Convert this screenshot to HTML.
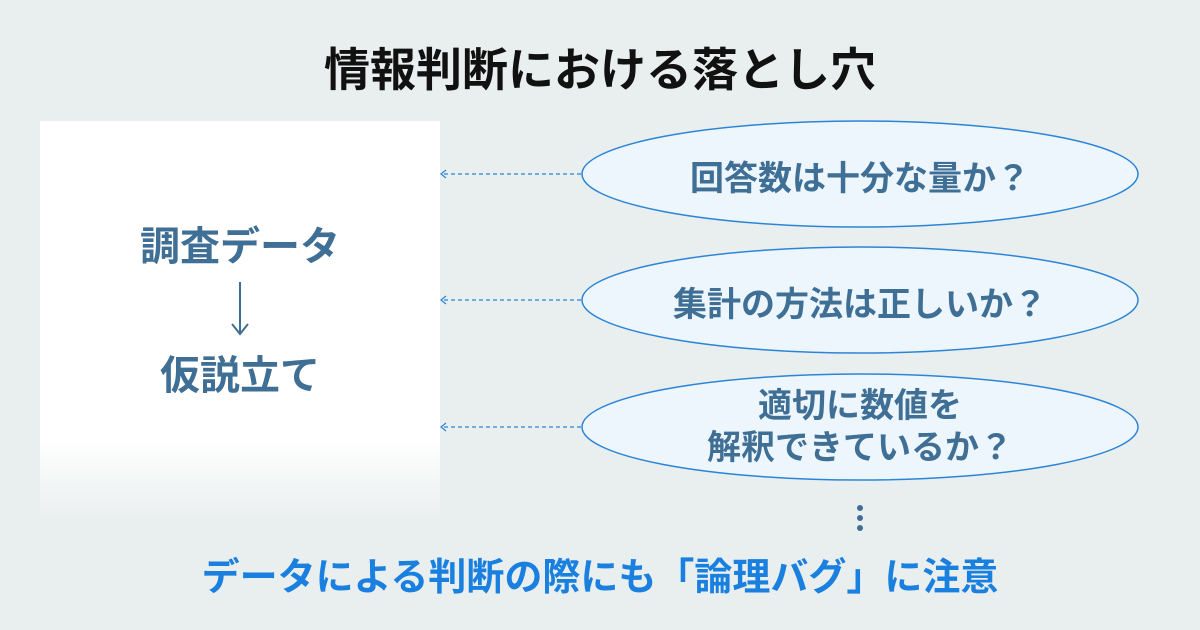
<!DOCTYPE html>
<html><head><meta charset="utf-8"><style>
body{margin:0;width:1200px;height:630px;background:#e9eeee;position:relative;overflow:hidden;font-family:"Liberation Sans","Noto Sans CJK JP",sans-serif}
.t{position:absolute;left:0;width:1200px;text-align:center}
</style></head><body>
<div class="t" style="top:34px;font-size:46px;font-weight:bold;color:#111">情報判断における落とし穴</div>
<div style="position:absolute;left:40px;top:121px;width:400px;height:400px;background:linear-gradient(#fff 0,#fff 80%,#e9eeee 100%)"></div>
<div style="position:absolute;left:40px;width:400px;text-align:center;top:214px;font-size:40px;font-weight:bold;color:#3f6f95">調査データ</div>
<div style="position:absolute;left:40px;width:400px;text-align:center;top:343px;font-size:40px;font-weight:bold;color:#3f6f95">仮説立て</div>
<svg width="1200" height="630" style="position:absolute;left:0;top:0">
<g stroke="#3f6f95" stroke-width="2" fill="none"><line x1="240" y1="282" x2="240" y2="334"/><polyline points="232,324 240,334 248,324"/></g>
<g fill="#eef6fd" stroke="#2a85d8" stroke-width="1.5">
<ellipse cx="860" cy="174" rx="278" ry="53"/>
<ellipse cx="860" cy="300" rx="278" ry="53"/>
<ellipse cx="860" cy="427" rx="278" ry="53"/>
</g>
<g stroke="#2a85d8" stroke-width="1.2" fill="none">
<line x1="444" y1="174" x2="582" y2="174" stroke-dasharray="4,3"/><polyline points="446,170 441,174 446,178"/>
<line x1="444" y1="300" x2="582" y2="300" stroke-dasharray="4,3"/><polyline points="446,296 441,300 446,304"/>
<line x1="444" y1="427" x2="582" y2="427" stroke-dasharray="4,3"/><polyline points="446,423 441,427 446,431"/>
</g>
<g fill="#3f6f95"><circle cx="860" cy="508" r="3"/><circle cx="860" cy="518" r="3"/><circle cx="860" cy="528" r="3"/></g>
</svg>
<div style="position:absolute;left:582px;width:556px;text-align:center;top:151px;font-size:34px;font-weight:bold;color:#3f6f95">回答数は十分な量か？</div>
<div style="position:absolute;left:582px;width:556px;text-align:center;top:277px;font-size:34px;font-weight:bold;color:#3f6f95">集計の方法は正しいか？</div>
<div style="position:absolute;left:582px;width:556px;text-align:center;top:385px;font-size:34px;line-height:42px;font-weight:bold;color:#3f6f95">適切に数値を<br>解釈できているか？</div>
<div class="t" style="top:546px;font-size:38px;font-weight:bold;color:#1a80e0">データによる判断の際にも「論理バグ」に注意</div>
</body></html>
